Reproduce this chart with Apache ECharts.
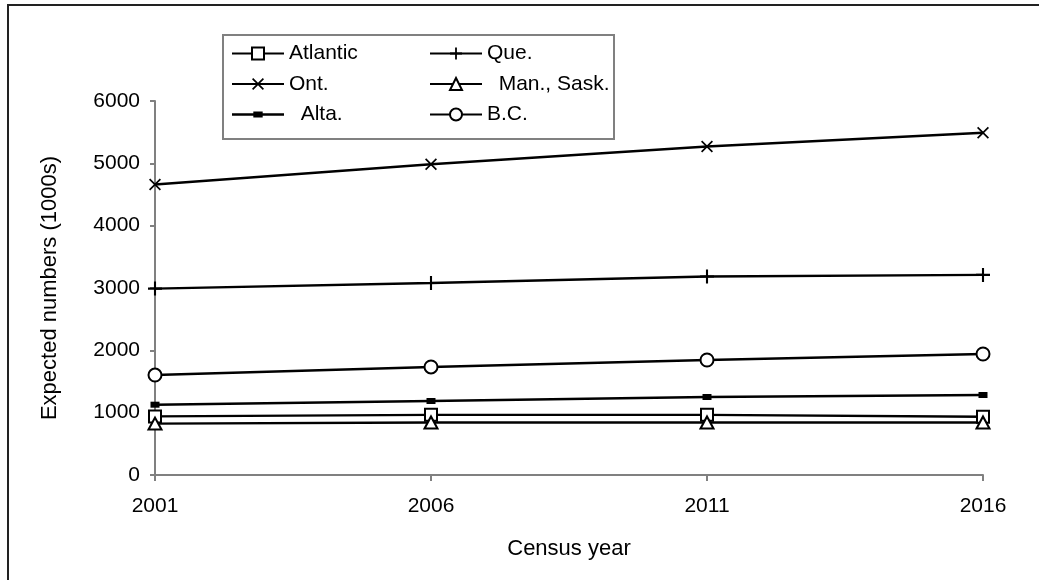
<!DOCTYPE html>
<html>
<head>
<meta charset="utf-8">
<script src="https://cdn.jsdelivr.net/npm/echarts@6/dist/echarts.min.js"></script>
<style>html,body{margin:0;padding:0;background:#fff}#c{width:1039px;height:580px}</style>
</head>
<body>
<div id="c"></div>
<script>
const years = ['2001', '2006', '2011', '2016'];
const atlantic = [940, 965, 965, 935];
const quebec = [2990, 3080, 3185, 3210];
const ontario = [4660, 4985, 5270, 5490];
const manSask = [825, 842, 842, 842];
const alberta = [1128, 1187, 1251, 1283];
const bc = [1604, 1733, 1845, 1941];
const yTicks = { min: 0, max: 6000, interval: 1000 };

const FONT = '"Liberation Sans", Arial, sans-serif';
const PLUS = 'path://M8.5,0H11.5V8.5H20V11.5H11.5V20H8.5V11.5H0V8.5H8.5Z';
const CROSS = 'path://M2,0L10,8L18,0L20,2L12,10L20,18L18,20L10,12L2,20L0,18L8,10L0,2Z';
const ALTA_ICON = 'path://M0,5.9H50V8.1H0Z M20.5,4H29.5V10H20.5Z';

function mk(name, data, symbol, size, bw) {
  return {
    name: name, type: 'line', data: data,
    symbol: symbol, symbolSize: size, showSymbol: true,
    lineStyle: { color: '#000', width: 2.4 },
    itemStyle: { color: '#000', borderColor: '#000', borderWidth: bw },
    z: 3
  };
}

const legendText = { fontFamily: FONT, fontSize: 21, color: '#000', lineHeight: 20 };

const chart = echarts.init(document.getElementById('c'), null, { renderer: 'canvas' });
chart.setOption({
  animation: false,
  backgroundColor: '#fff',
  textStyle: { fontFamily: FONT },
  grid: { left: 155, right: 56, top: 101, bottom: 105, containLabel: false },
  graphic: [
    { type: 'rect', shape: { x: 8, y: 5, width: 1200, height: 800 }, style: { fill: 'none', stroke: '#222', lineWidth: 2 }, z: 0, silent: true },
    { type: 'rect', shape: { x: 223, y: 35, width: 391, height: 104 }, style: { fill: '#fff', stroke: '#808080', lineWidth: 2 }, z: 1, silent: true }
  ],
  legend: [
    {
      orient: 'vertical', left: 226, top: 38, itemWidth: 52, itemHeight: 15, itemGap: 9.5,
      data: ['Atlantic', 'Ont.', { name: 'Alta.', icon: ALTA_ICON }],
      formatter: function (n) { return n === 'Alta.' ? '  ' + n : n; },
      textStyle: legendText, lineStyle: { width: 2 },
      selectedMode: false, z: 5
    },
    {
      orient: 'vertical', left: 424, top: 38, itemWidth: 52, itemHeight: 15, itemGap: 9.5,
      data: ['Que.', 'Man., Sask.', 'B.C.'],
      formatter: function (n) { return n === 'Man., Sask.' ? '  ' + n : n; },
      textStyle: legendText, lineStyle: { width: 2 },
      selectedMode: false, z: 5
    }
  ],
  xAxis: {
    type: 'category', data: years, boundaryGap: false,
    name: 'Census year', nameLocation: 'middle', nameGap: 63,
    nameTextStyle: { fontFamily: FONT, fontSize: 22, color: '#000' },
    axisLine: { show: true, lineStyle: { color: '#808080', width: 2 } },
    axisTick: { show: true, alignWithLabel: true, length: 6, lineStyle: { color: '#808080', width: 2 } },
    axisLabel: { fontFamily: FONT, fontSize: 21, color: '#000', margin: 21 },
    splitLine: { show: false }
  },
  yAxis: {
    type: 'value', min: yTicks.min, max: yTicks.max, interval: yTicks.interval,
    name: 'Expected numbers (1000s)', nameLocation: 'middle', nameGap: 94, nameRotate: 90,
    nameTextStyle: { fontFamily: FONT, fontSize: 22, color: '#000' },
    axisLine: { show: true, lineStyle: { color: '#808080', width: 2 } },
    axisTick: { show: true, length: 5, lineStyle: { color: '#808080', width: 2 } },
    axisLabel: { fontFamily: FONT, fontSize: 21, color: '#000', margin: 15, formatter: function (v) { return String(v); } },
    splitLine: { show: false }
  },
  series: [
    mk('Atlantic', atlantic, 'emptyRect', 12, 2),
    mk('Que.', quebec, PLUS, 14, 0),
    mk('Ont.', ontario, CROSS, 12, 0),
    mk('Man., Sask.', manSask, 'emptyTriangle', [13, 12], 2),
    mk('Alta.', alberta, 'rect', [9, 6], 0),
    mk('B.C.', bc, 'emptyCircle', 13, 2)
  ]
});
</script>
</body>
</html>
